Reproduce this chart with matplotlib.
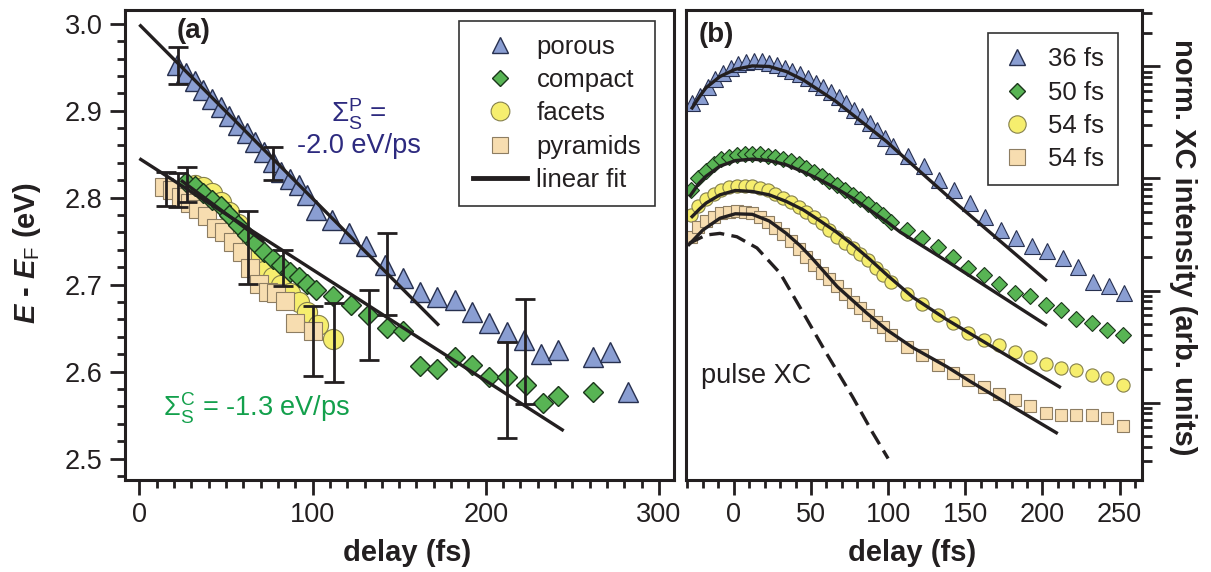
import matplotlib
matplotlib.use("Agg")
import matplotlib.pyplot as plt
import numpy as np
from matplotlib.lines import Line2D
from matplotlib.ticker import MultipleLocator, LogLocator, NullFormatter

plt.rcParams["font.family"] = "Liberation Sans"
plt.rcParams["mathtext.fontset"] = "custom"
plt.rcParams["mathtext.rm"] = "Liberation Sans"
plt.rcParams["mathtext.it"] = "Liberation Sans:italic:bold"
plt.rcParams["mathtext.bf"] = "Liberation Sans:bold"

# ---- panel (a): peak energy vs delay ----
porous_t = [22, 27, 32, 37, 42, 47, 52, 57, 62, 67, 72, 77, 82, 87, 92, 97, 102,
            111, 121, 131, 142, 152, 162, 172, 182, 192, 202, 212, 222, 232, 242,
            262, 272, 282]
porous_e = [2.952, 2.943, 2.934, 2.924, 2.914, 2.904, 2.894, 2.884, 2.874, 2.864,
            2.853, 2.841, 2.830, 2.822, 2.814, 2.803, 2.786, 2.774, 2.759, 2.744,
            2.723, 2.708, 2.692, 2.686, 2.682, 2.669, 2.656, 2.646, 2.636, 2.620,
            2.625, 2.617, 2.623, 2.577]

compact_t = [27, 32, 37, 42, 47, 52, 57, 62, 67, 72, 77, 82, 87, 92, 97, 102,
             112, 122, 132, 143, 152, 162, 172, 182, 192, 202, 212, 223, 233, 242, 262]
compact_e = [2.818, 2.813, 2.805, 2.797, 2.790, 2.780, 2.769, 2.757, 2.748, 2.738,
             2.730, 2.723, 2.715, 2.709, 2.701, 2.694, 2.687, 2.677, 2.665, 2.650,
             2.647, 2.607, 2.603, 2.617, 2.608, 2.594, 2.594, 2.585, 2.564, 2.572, 2.576]

facets_t = [32, 37, 42, 47, 52, 57, 62, 67, 72, 77, 82, 87, 92, 97, 103, 112]
facets_e = [2.815, 2.812, 2.805, 2.795, 2.783, 2.770, 2.752, 2.732, 2.716, 2.709,
            2.700, 2.690, 2.680, 2.668, 2.654, 2.638]

pyramids_t = [14, 19, 24, 29, 34, 39, 44, 49, 54, 59, 64, 69, 74, 79, 84, 90, 100]
pyramids_e = [2.812, 2.809, 2.801, 2.794, 2.787, 2.779, 2.765, 2.760, 2.749, 2.737,
              2.719, 2.701, 2.692, 2.690, 2.681, 2.656, 2.647]

err_t = [22.5, 77.3, 142.8, 222.6, 15.4, 22.5, 27.7, 62.9, 82.7, 100, 112.5, 132.7, 212.4]
err_e = [2.952, 2.839, 2.712, 2.623, 2.810, 2.809, 2.8155, 2.743, 2.719, 2.635,
         2.6335, 2.6536, 2.579]
err_d = [0.021, 0.019, 0.047, 0.060, 0.020, 0.0195, 0.020, 0.042, 0.021, 0.040,
         0.045, 0.040, 0.0555]

fitP_t = [0, 173]
fitP_e = [2.999, 2.653]
fitC_t = [0, 245]
fitC_e = [2.845, 2.532]
fitC2_t = [24, 72]
fitC2_e = [2.820, 2.749]

# ---- panel (b): XC traces, values are log10 of norm. intensity ----
tri_t = [-27, -22, -17, -12, -7, -2, 3, 8, 13, 18, 23, 28, 33, 38, 43, 48, 53, 58,
         63, 68, 73, 78, 83, 88, 93, 98, 103, 113, 123, 133, 143, 153, 163, 173,
         183, 193, 203, 213, 223, 233, 243, 253]
tri_lg = [-0.33, -0.26, -0.18, -0.11, -0.06, -0.015, 0.02, 0.04, 0.045, 0.045, 0.03,
          0.01, -0.01, -0.04, -0.07, -0.105, -0.145, -0.185, -0.23, -0.275, -0.33,
          -0.385, -0.44, -0.505, -0.57, -0.64, -0.71, -0.80, -0.89, -1.01, -1.10,
          -1.22, -1.34, -1.46, -1.53, -1.60, -1.65, -1.71, -1.79, -1.92, -1.96, -2.02]

dia_t = [-28, -23, -18, -13, -8, -3, 2, 7, 12, 17, 22, 27, 32, 37, 42, 47, 52, 57,
         62, 67, 72, 77, 82, 87, 92, 97, 102, 112, 122, 132, 142, 152, 162, 172,
         182, 192, 202, 212, 222, 232, 242, 252]
dia_lg = [-1.10, -1.00, -0.93, -0.875, -0.83, -0.805, -0.79, -0.78, -0.78, -0.785,
          -0.795, -0.81, -0.825, -0.845, -0.87, -0.905, -0.945, -0.98, -1.02, -1.06,
          -1.10, -1.145, -1.185, -1.23, -1.28, -1.33, -1.385, -1.46, -1.53, -1.61,
          -1.70, -1.80, -1.86, -1.94, -2.02, -2.05, -2.13, -2.17, -2.25, -2.29,
          -2.35, -2.40]

cir_t = dia_t
cir_lg = [-1.33, -1.25, -1.185, -1.14, -1.105, -1.08, -1.07, -1.065, -1.07, -1.085,
          -1.105, -1.135, -1.17, -1.21, -1.255, -1.30, -1.345, -1.40, -1.46, -1.52,
          -1.575, -1.625, -1.67, -1.73, -1.80, -1.86, -1.92, -2.03, -2.12, -2.22,
          -2.29, -2.38, -2.44, -2.485, -2.545, -2.59, -2.655, -2.69, -2.71, -2.75,
          -2.78, -2.84]

sq_t = dia_t
sq_lg = [-1.52, -1.43, -1.38, -1.34, -1.31, -1.295, -1.29, -1.295, -1.31, -1.34,
         -1.39, -1.44, -1.50, -1.56, -1.63, -1.70, -1.77, -1.84, -1.90, -1.96,
         -2.03, -2.10, -2.16, -2.22, -2.28, -2.33, -2.40, -2.50, -2.58, -2.665,
         -2.74, -2.80, -2.86, -2.92, -2.98, -3.035, -3.095, -3.11, -3.11, -3.11,
         -3.14, -3.21]

fit36_t = [-27, -22, -18, -9, 1, 12, 23, 34, 45, 55, 66, 77, 88, 99, 107, 140, 202]
fit36_lg = [-0.37, -0.265, -0.19, -0.09, -0.025, 0.005, 0.0, -0.045, -0.12, -0.21,
            -0.31, -0.43, -0.55, -0.67, -0.77, -1.175, -1.905]
fit50_t = [-28, -23, -18, -9, 1, 12, 23, 34, 45, 55, 66, 77, 88, 99, 108, 140, 202]
fit50_lg = [-1.15, -1.05, -0.98, -0.89, -0.84, -0.827, -0.84, -0.878, -0.94, -1.005,
            -1.085, -1.175, -1.28, -1.385, -1.48, -1.755, -2.305]
fit54a_t = [-27, -22, -18, -9, 1, 12, 23, 34, 45, 55, 66, 77, 88, 100, 116, 138, 211]
fit54a_lg = [-1.34, -1.27, -1.22, -1.146, -1.107, -1.116, -1.146, -1.205, -1.28,
             -1.37, -1.473, -1.59, -1.72, -1.87, -2.06, -2.26, -2.86]
fit54b_t = [-29, -20, -9, 1, 12, 23, 34, 43, 50, 67, 86, 99, 116, 138, 153, 209]
fit54b_lg = [-1.59, -1.46, -1.355, -1.315, -1.32, -1.38, -1.49, -1.60, -1.70, -1.965,
             -2.20, -2.35, -2.51, -2.68, -2.81, -3.27]
pulse_t = [-29, -18, -9, 2, 15, 30, 45, 60, 77, 90, 100]
pulse_lg = [-1.58, -1.505, -1.49, -1.52, -1.62, -1.845, -2.20, -2.56, -2.95, -3.27, -3.50]

legend_a = ["porous", "compact", "facets", "pyramids", "linear fit"]
legend_b = ["36 fs", "50 fs", "54 fs", "54 fs"]

blue, blue_e = "#8a9ed2", "#27304f"
green, green_e = "#58b454", "#1b361b"
yellow, yellow_e = "#f6ee6e", "#85804c"
beige, beige_e = "#f7ddb0", "#8d7d62"
ink = "#231f20"

W, H = 1211, 572


def fx(px):
    return px / W


def fy(py):
    return 1 - py / H


fig = plt.figure(figsize=(W / 100, H / 100), dpi=100)
ax = fig.add_axes([fx(125), fy(479.8), 549 / W, 470 / H])
axb = fig.add_axes([fx(686.4), fy(479.8), 455.6 / W, 470 / H])

# panel (a)
ax.plot(facets_t, facets_e, "o", ms=14.5, mfc=yellow, mec=yellow_e, mew=0.8, zorder=2)
ax.plot(pyramids_t, pyramids_e, "s", ms=12.5, mfc=beige, mec=beige_e, mew=0.8, zorder=2)
ax.plot(compact_t, compact_e, "D", ms=10, mfc=green, mec=green_e, mew=1.0, zorder=3)
ax.plot(porous_t, porous_e, "^", ms=14, mfc=blue, mec=blue_e, mew=1.0, zorder=3)
for lt, le in [(fitP_t, fitP_e), (fitC_t, fitC_e), (fitC2_t, fitC2_e)]:
    ax.plot(lt, le, "-", color=ink, lw=2.4, zorder=4, solid_capstyle="butt")
ax.errorbar(err_t, err_e, yerr=err_d, fmt="none", ecolor=ink, elinewidth=2.0,
            capsize=7, capthick=2.0, zorder=5)

ax.set_xlim(-8.3, 308.7)
ax.set_ylim(2.4756, 3.016)
ax.set_xticks([0, 100, 200, 300])
ax.xaxis.set_minor_locator(MultipleLocator(10))
ax.set_yticks([2.5, 2.6, 2.7, 2.8, 2.9, 3.0])
ax.set_yticklabels(["2.5", "2.6", "2.7", "2.8", "2.9", "3.0"])
ax.yaxis.set_minor_locator(MultipleLocator(0.02))
ax.tick_params(which="major", direction="out", length=11, width=2, labelsize=19.5,
               colors=ink, pad=5)
ax.tick_params(which="minor", direction="out", length=5.5, width=2, colors=ink)
for s in ax.spines.values():
    s.set_linewidth(2.2)
    s.set_color(ink)

fig.text(fx(194), fy(31), "(a)", ha="center", va="center",
         fontsize=20, fontweight="bold", color=ink)
fig.text(fx(331), fy(123), r"$\Sigma_\mathrm{S}^\mathrm{P}$ =", fontsize=20,
         color="#2d2a7f", va="baseline")
fig.text(fx(297), fy(153), "-2.0 eV/ps", fontsize=19.5, color="#2d2a7f", va="baseline")
fig.text(fx(163), fy(417), r"$\Sigma_\mathrm{S}^\mathrm{C}$ = -1.3 eV/ps", fontsize=19.5,
         color="#13a04c", va="baseline")

handles_a = [
    Line2D([], [], ls="none", marker="^", ms=12, mfc=blue, mec=blue_e, mew=1.0),
    Line2D([], [], ls="none", marker="D", ms=8.5, mfc=green, mec=green_e, mew=1.0),
    Line2D([], [], ls="none", marker="o", ms=13.5, mfc=yellow, mec=yellow_e, mew=0.8),
    Line2D([], [], ls="none", marker="s", ms=12, mfc=beige, mec=beige_e, mew=0.8),
    Line2D([], [], color=ink, lw=3.5),
]
leg = ax.legend(handles_a, legend_a, loc="upper left",
                bbox_to_anchor=(fx(459.3), fy(20.7)), bbox_transform=fig.transFigure,
                borderaxespad=0, fontsize=18.5, frameon=True, fancybox=False,
                edgecolor="#333333", framealpha=1, handlelength=2.1,
                handletextpad=0.35, labelspacing=0.36, borderpad=0.55)
leg.get_frame().set_linewidth(1.2)
for t in leg.get_texts():
    t.set_color(ink)

# panel (b)
axb.set_yscale("log")
axb.plot(tri_t, 10 ** np.array(tri_lg), "^", ms=11.5, mfc=blue, mec=blue_e, mew=0.8, zorder=2)
axb.plot(dia_t, 10 ** np.array(dia_lg), "D", ms=8, mfc=green, mec=green_e, mew=0.8, zorder=2)
axb.plot(cir_t, 10 ** np.array(cir_lg), "o", ms=9.5, mfc=yellow, mec=yellow_e, mew=0.8, zorder=2)
axb.plot(sq_t, 10 ** np.array(sq_lg), "s", ms=8.5, mfc=beige, mec=beige_e, mew=0.8, zorder=2)
for lt, ll in [(fit36_t, fit36_lg), (fit50_t, fit50_lg), (fit54a_t, fit54a_lg),
               (fit54b_t, fit54b_lg)]:
    axb.plot(lt, 10 ** np.array(ll), "-", color=ink, lw=2.4, zorder=4)
axb.plot(pulse_t, 10 ** np.array(pulse_lg), "--", color=ink, lw=2.4, dashes=(4.5, 2.2),
         zorder=4)

axb.set_xlim(-30.7, 264.5)
axb.set_ylim(10 ** -3.69, 10 ** 0.506)
axb.set_xticks([0, 50, 100, 150, 200, 250])
axb.xaxis.set_minor_locator(MultipleLocator(10))
axb.yaxis.tick_right()
axb.yaxis.set_major_locator(LogLocator(base=10))
axb.yaxis.set_minor_locator(LogLocator(base=10, subs=np.arange(2, 10)))
axb.yaxis.set_major_formatter(NullFormatter())
axb.yaxis.set_minor_formatter(NullFormatter())
axb.tick_params(axis="x", which="major", direction="out", length=11, width=2,
                labelsize=19.5, colors=ink, pad=5)
axb.tick_params(axis="x", which="minor", direction="out", length=5.5, width=2, colors=ink)
axb.tick_params(axis="y", which="major", direction="out", length=13, width=2, colors=ink,
                left=False, right=True)
axb.tick_params(axis="y", which="minor", direction="out", length=7, width=2, colors=ink,
                left=False, right=True)
for s in axb.spines.values():
    s.set_linewidth(2.2)
    s.set_color(ink)

fig.text(fx(716), fy(34.5), "(b)", ha="center", va="center", fontsize=20,
         fontweight="bold", color=ink)
fig.text(fx(701), fy(383), "pulse XC", fontsize=19.5, color=ink, va="baseline")

handles_b = [
    Line2D([], [], ls="none", marker="^", ms=12, mfc=blue, mec=blue_e, mew=1.0),
    Line2D([], [], ls="none", marker="D", ms=8, mfc=green, mec=green_e, mew=1.0),
    Line2D([], [], ls="none", marker="o", ms=12.5, mfc=yellow, mec=yellow_e, mew=0.8),
    Line2D([], [], ls="none", marker="s", ms=11.5, mfc=beige, mec=beige_e, mew=0.8),
]
legb = axb.legend(handles_b, legend_b, loc="upper left",
                  bbox_to_anchor=(fx(987.7), fy(33.3)), bbox_transform=fig.transFigure,
                  borderaxespad=0, fontsize=18.5, frameon=True, fancybox=False,
                  edgecolor="#333333", framealpha=1, handlelength=1.2,
                  handletextpad=0.6, labelspacing=0.36, borderpad=0.55)
legb.get_frame().set_linewidth(1.2)
for t in legb.get_texts():
    t.set_color(ink)

# axis labels
fig.text(fx(407), fy(553), "delay (fs)", ha="center", va="center", fontsize=21,
         fontweight="bold", color=ink)
fig.text(fx(912), fy(553), "delay (fs)", ha="center", va="center", fontsize=21,
         fontweight="bold", color=ink)
fig.text(fx(27), fy(253), r"$E$ - $E_\mathrm{F}$ (eV)", rotation=90, ha="center",
         va="center", fontsize=21, fontweight="bold", color=ink)
fig.text(fx(1183), fy(247), "norm. XC intensity (arb. units)", rotation=270,
         ha="center", va="center", fontsize=21, fontweight="bold", color=ink)

fig.savefig("out.png", dpi=100)
